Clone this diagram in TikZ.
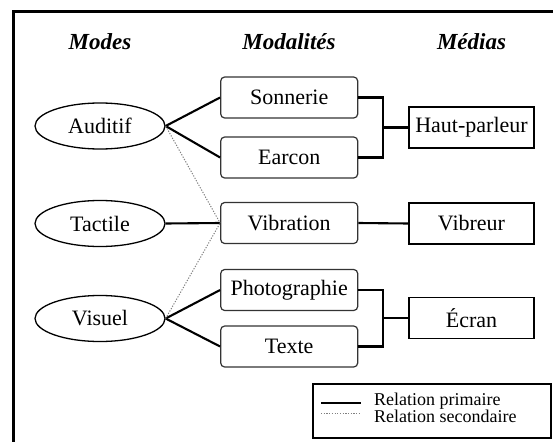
\documentclass[tikz,border=0pt]{standalone}
\usepackage{fontspec}
\setmainfont{Liberation Serif}
\usetikzlibrary{shapes.geometric}
\begin{document}
\begin{tikzpicture}[x=1pt,y=-1pt,
  hdr/.style={font=\fontsize{23}{26}\selectfont\bfseries\itshape},
  modebox/.style={draw, line width=1.3pt, ellipse, inner sep=0pt,
    minimum width=130pt, minimum height=46pt, font=\fontsize{22}{26}\selectfont},
  modalbox/.style={draw=black!80, line width=1.2pt, rounded corners=4pt,
    minimum width=137pt, minimum height=41pt, inner sep=0pt,
    font=\fontsize{22}{26}\selectfont},
  mediabox/.style={draw, line width=1.2pt,
    minimum width=125pt, minimum height=41pt, inner sep=0pt,
    font=\fontsize{22}{26}\selectfont},
  prim/.style={line width=2.1pt},
  sec/.style={draw=black!50, line width=1pt, dash pattern=on 1.2pt off 1.5pt},
]
\useasboundingbox (0,0) rectangle (553,441);
\fill[white] (0,0) rectangle (553,441);
\begin{scope}
\clip (0,0) rectangle (553,441);
% outer frame, running past the right and bottom edges
\draw[line width=2.8pt] (13.5,11.5) rectangle (620,520);
\end{scope}

% column headers
\node[hdr] (hmodes) at (100,42) {Modes};
\node[hdr] (hmodal) at (289,42) {Modalités};
\node[hdr] (hmedia) at (471.5,42) {Médias};

% modes
\node[modebox] (aud) at (100,126) {Auditif};
\node[modebox] (tac) at (100,223.5) {Tactile};
\node[modebox] (vis) at (100,318.5) {Visuel};

% modalities
\node[modalbox] (son) at (289.2,97.5) {Sonnerie};
\node[modalbox] (ear) at (289.2,157.5) {Earcon};
\node[modalbox] (vib) at (289.2,223) {Vibration};
\node[modalbox] (pho) at (289.2,290) {Photographie};
\node[modalbox] (tex) at (289.2,346.5) {Texte};

% media
\node[mediabox] (hp) at (471.5,127.5) {Haut-parleur};
\node[mediabox] (vbr) at (471.5,223.5) {Vibreur};
\node[mediabox] (ecr) at (471.5,318) {Écran};

% junction points of the brackets
\coordinate (j1) at (383,127.5);
\coordinate (j2) at (383,318);

% primary relations
\draw[prim] (aud.east) -- (son.west);
\draw[prim] (aud.east) -- (ear.west);
\draw[prim] (tac.east) -- (vib.west);
\draw[prim] (vis.east) -- (pho.west);
\draw[prim] (vis.east) -- (tex.west);
\draw[prim] (son.east) -| (j1) |- (ear.east);
\draw[prim] (j1) -- (hp.west);
\draw[prim] (vib.east) -- (vbr.west);
\draw[prim] (pho.east) -| (j2) |- (tex.east);
\draw[prim] (j2) -- (ecr.west);

% secondary relations
\draw[sec] (aud.east) -- (vib.west);
\draw[sec] (vis.east) -- (vib.west);

% legend
\node[draw, line width=1.2pt, minimum width=238pt, minimum height=54pt, inner sep=0pt] (leg) at (432,411) {};
\coordinate (l1a) at (321,403);
\coordinate (l1b) at (361,403);
\coordinate (l2a) at (321,413.5);
\coordinate (l2b) at (361,413.5);
\draw[prim] (l1a) -- (l1b);
\draw[sec, line width=0.8pt] (l2a) -- (l2b);
\node[anchor=west, inner sep=0pt, align=left, font=\fontsize{18}{12.5}\selectfont] (lt) at (374,408)
  {Relation primaire\\Relation secondaire};
\end{tikzpicture}
\end{document}
